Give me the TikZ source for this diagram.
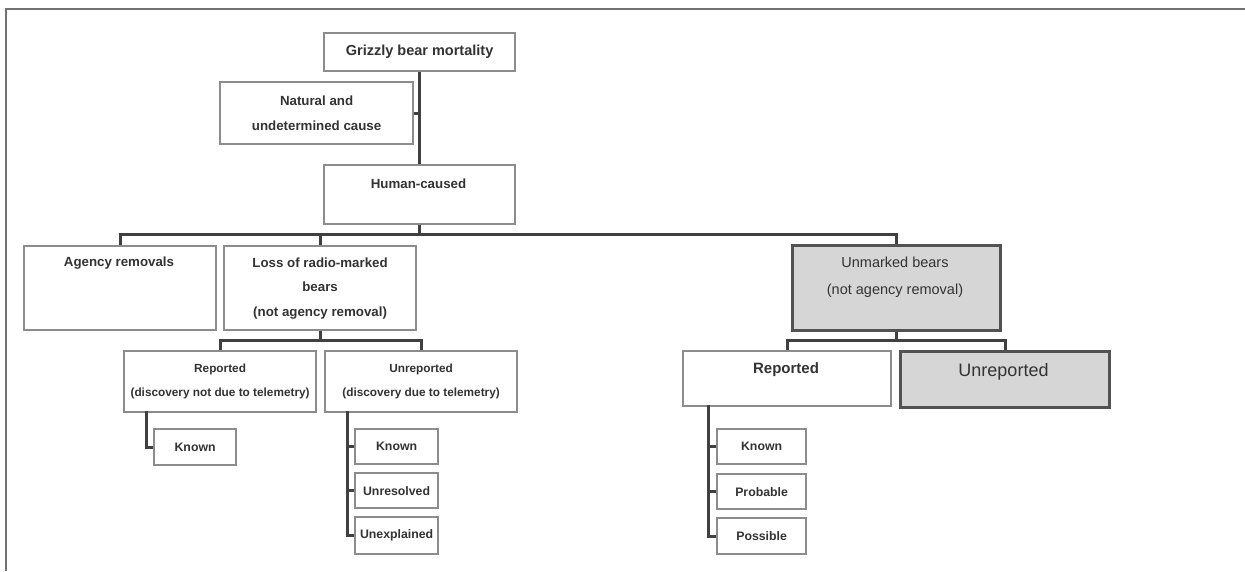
\documentclass[tikz,border=0pt]{standalone}
\usepackage{fontspec}
\setmainfont{Liberation Sans}
\newcommand\bx[7]{\node[#6, anchor=north west, minimum width={(#4-#2)*1pt}, minimum height={(#5-#3)*1pt}] (#1) at (#2,#3) {#7};}
\begin{document}
\begin{tikzpicture}[x=1pt,y=-1pt,
  box/.style={draw=black!45, line width=2.2pt, fill=white, inner sep=0pt, align=center, text=black!80},
  gbox/.style={draw=black!68, line width=3pt, fill=black!16, inner sep=0pt, align=center, text=black!80},
  conn/.style={draw=black!75, line width=3pt},
  frame/.style={draw=black!55, line width=1.5pt},
  lbl/.style={text=black!80, align=center, inner sep=0pt},
  fA/.style={font=\bfseries\fontsize{14.5}{24}\selectfont},
  fB/.style={font=\bfseries\fontsize{13.3}{24.5}\selectfont},
  fC/.style={font=\bfseries\fontsize{11.8}{24}\selectfont},
  fD/.style={font=\fontsize{14.5}{27}\selectfont},
  fE/.style={font=\bfseries\fontsize{15}{18}\selectfont},
  fF/.style={font=\fontsize{18}{20}\selectfont},
  fG/.style={font=\bfseries\fontsize{12.3}{14}\selectfont}
]
\useasboundingbox (0,0) rectangle (1245,571);
\draw[frame] (6,571) -- (6,9) -- (1245,9);

% boxes
\bx{mort}{323}{32}{514}{70}{box,fA}{Grizzly bear mortality}
\bx{nat}{219}{81}{412}{143}{box,fB}{Natural and\\undetermined cause}
\bx{hum}{323}{164}{514}{223}{box}{}
\node[lbl,fB] (humt) at (418.5,184) {Human-caused};
\bx{agency}{23}{245}{215}{329}{box}{}
\node[lbl,fB] (agencyt) at (119,263) {Agency removals};
\bx{loss}{223}{245}{415}{329}{box,fB}{Loss of radio-marked\\bears\\(not agency removal)}
\bx{unm}{791}{244}{999}{329}{gbox}{}
\node[lbl,fD] (unmt) at (895,277) {Unmarked bears\\(not agency removal)};
\bx{rep1}{123}{350}{315}{411}{box,fC}{Reported\\(discovery not due to telemetry)}
\bx{unrep1}{324}{350}{516}{411}{box,fC}{Unreported\\(discovery due to telemetry)}
\bx{rep2}{682}{350}{890}{405}{box}{}
\node[lbl,fE] (rep2t) at (786,370) {Reported};
\bx{unrep2}{899}{350}{1108}{406}{gbox}{}
\node[lbl,fF] (unrep2t) at (1003.5,372) {Unreported};

\bx{knownA}{153}{428}{235}{464}{box,fG}{Known}
\bx{knownB}{354}{428}{437}{463}{box,fG}{Known}
\bx{unres}{354}{472}{437}{507}{box,fG}{Unresolved}
\bx{unexp}{354}{516}{437}{553}{box,fG}{Unexplained}
\bx{knownC}{716}{428}{805}{463}{box,fG}{Known}
\bx{prob}{716}{473}{805}{508}{box,fG}{Probable}
\bx{poss}{716}{517}{805}{553}{box,fG}{Possible}

% connectors
\draw[conn] (mort.south) -- (hum.north);
\draw[conn] (nat.east) -- (nat.east -| mort.south);
\coordinate (b1) at (418.5,234);
\draw[conn] (hum.south) -- (hum.south |- b1);
\draw[conn] (agency.north) |- (b1) -| (unm.north);
\draw[conn] (loss.north) -- (loss.north |- b1);
\coordinate (b2) at (319,340);
\draw[conn] (loss.south) -- (loss.south |- b2);
\draw[conn] (rep1.north) |- (b2) -| (unrep1.north);
\coordinate (b3) at (895,340);
\draw[conn] (unm.south) -- (unm.south |- b3);
\draw[conn] (rep2.north) |- (b3) -| (unrep2.north);

\coordinate (r1a) at (146,411);
\draw[conn] (r1a) |- (knownA.west);
\coordinate (u1a) at (347,411);
\draw[conn] (u1a) |- (unexp.west);
\draw[conn] (u1a |- knownB.west) -- (knownB.west);
\draw[conn] (u1a |- unres.west) -- (unres.west);
\coordinate (r2a) at (708,405);
\draw[conn] (r2a) |- (poss.west);
\draw[conn] (r2a |- knownC.west) -- (knownC.west);
\draw[conn] (r2a |- prob.west) -- (prob.west);
\end{tikzpicture}
\end{document}
